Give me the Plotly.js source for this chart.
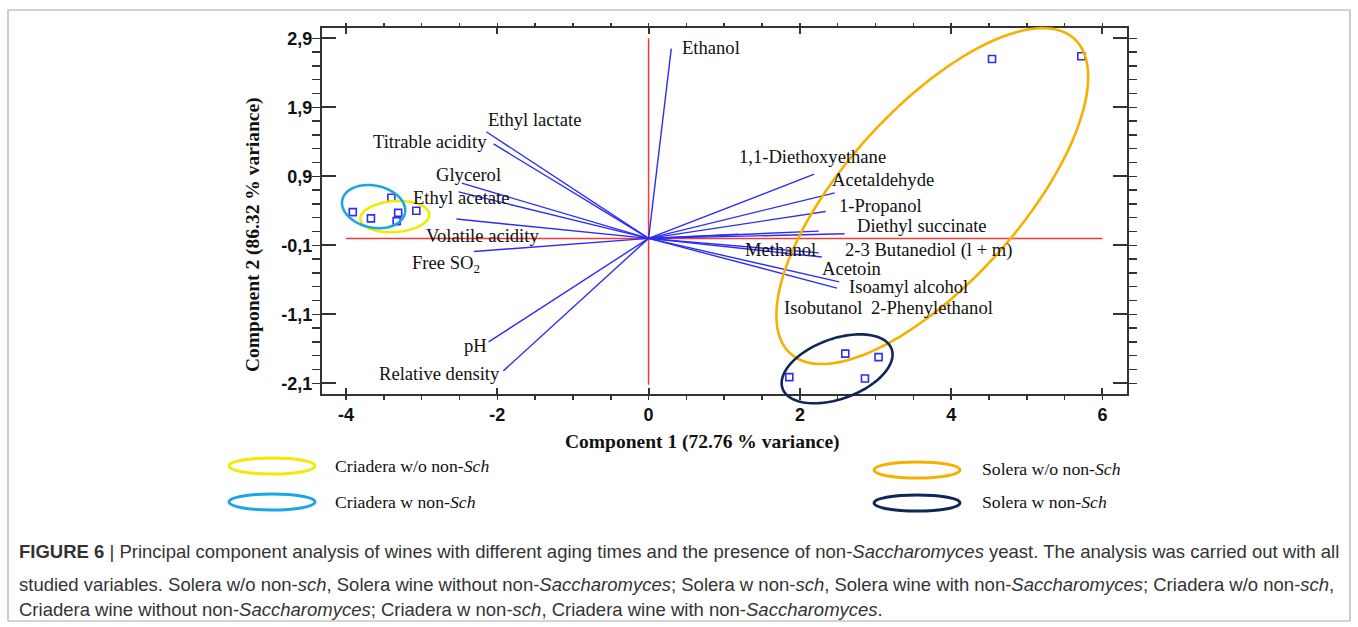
<!DOCTYPE html>
<html><head><meta charset="utf-8">
<script src="https://cdn.plot.ly/plotly-3.0.1.min.js"></script>
<style>html,body{margin:0;padding:0;background:#fff;} #chart{width:1358px;height:627px;}</style>
</head><body><div id="chart"></div>
<script>
// ---------- data ----------
const variables = ['Ethanol','Ethyl lactate','Titrable acidity','Glycerol','Ethyl acetate','Volatile acidity','Free SO<sub>2</sub>','pH','Relative density',
  '1,1-Diethoxyethane','Acetaldehyde','1-Propanol','Diethyl succinate','Methanol','2-3 Butanediol (l + m)','Acetoin','Isoamyl alcohol','Isobutanol','2-Phenylethanol'];
const loadingPC1 = [0.30,-2.145,-2.05,-2.47,-2.51,-2.54,-2.31,-2.115,-1.92, 2.19,2.46,2.34,2.59,1.19,2.25,2.29,2.52,2.49,2.25];
const loadingPC2 = [2.75, 1.545, 1.37, 0.80, 0.675, 0.28,-0.19,-1.50,-1.92, 0.93,0.66,0.39,0.067,0.06,0.106,-0.27,-0.63,-0.72,-0.21];

const sampleGroup = ['Criadera w non-Sch','Criadera w non-Sch','Criadera w non-Sch','Criadera w/o non-Sch','Criadera w/o non-Sch','Criadera w/o non-Sch',
  'Solera w non-Sch','Solera w non-Sch','Solera w non-Sch','Solera w/o non-Sch','Solera w/o non-Sch','Solera w/o non-Sch'];
const scorePC1 = [-3.91,-3.67,-3.40,-3.31,-3.33,-3.07, 1.86,3.04,2.86, 2.60,4.54,5.72];
const scorePC2 = [0.38,0.29,0.59,0.37,0.25,0.40, -2.01,-1.72,-2.03, -1.67,2.60,2.64];

const groupNames  = ['Criadera w/o non-Sch','Criadera w non-Sch','Solera w/o non-Sch','Solera w non-Sch'];
const groupLabels = ['Criadera w/o non-<i>Sch</i>','Criadera w non-<i>Sch</i>','Solera w/o non-<i>Sch</i>','Solera w non-<i>Sch</i>'];
// group ellipses: centre (data units), semi-axes (px), rotation (deg)
const ellipseCX = [-3.355,-3.635,3.75,2.492];
const ellipseCY = [0.316,0.461,0.613,-1.89];
const ellipseA  = [34.5,32,212,58];
const ellipseB  = [15.5,21,87,30];
const ellipseRot= [4,-12,48,20];

const xTickVals = [-4,-2,0,2,4,6];
const xTickText = ['-4','-2','0','2','4','6'];
const yTickVals = [-2.1,-1.1,-0.1,0.9,1.9,2.9];
const yTickText = ['-2,1','-1,1','-0,1','0,9','1,9','2,9'];
const refLineX = [-4,6];
const refLineY = [-2.12,2.9];

// ---------- styling / placement ----------
const W=1358,H=627,L=322,R=231,T=28,B=233;
const PW=W-L-R, PH=H-T-B;
const xRange=[-4.317,6.324], yRange=[-2.255,3.049];
const sx=PW/(xRange[1]-xRange[0]), sy=PH/(yRange[1]-yRange[0]);
const paperX = px => (px-L)/PW;
const paperY = py => (T+PH-py)/PH;
const dataToPaperX = v => (v-xRange[0])/(xRange[1]-xRange[0]);
const dataToPaperY = v => (v-yRange[0])/(yRange[1]-yRange[0]);
const groupColors = ['#f2ea00','#1ca7e3','#f5b000','#0f2756'];
const vecColor = 'rgb(45,45,245)';
// label placement (left edge px, vertical centre px)
const labelLeft = [681,487,372,435,412,425,411,463,378, 738,831,838,856,744,844,821,848,783,870];
const labelMid  = [48,119,141,174,198,235,264,345,373, 157,179,205,225,249,250,268,286,307,307];

// ---------- traces ----------
const traces = [];
traces.push({x:[refLineX[0],refLineX[1],null,0,0], y:[0,0,null,refLineY[0],refLineY[1]], mode:'lines',
  line:{color:'rgb(240,60,60)',width:1.5}, hoverinfo:'skip'});
const vx=[], vy=[];
variables.forEach((v,i)=>{vx.push(0,loadingPC1[i],null); vy.push(0,loadingPC2[i],null);});
traces.push({x:vx,y:vy,mode:'lines',line:{color:vecColor,width:1.4},hoverinfo:'skip'});
traces.push({x:scorePC1,y:scorePC2,mode:'markers',text:sampleGroup,
  marker:{symbol:'square-open',size:7,color:vecColor,line:{width:1.6,color:vecColor}}});

const shapes=[];
// group ellipses (paper-referenced paths so they may cross the frame like in the reference)
groupNames.forEach((g,k)=>{
  const th=ellipseRot[k]*Math.PI/180; let p='';
  for(let d=0; d<360; d+=3){
    const t=d*Math.PI/180;
    const dx=ellipseA[k]*Math.cos(t)*Math.cos(th)-ellipseB[k]*Math.sin(t)*Math.sin(th);
    const dy=ellipseA[k]*Math.cos(t)*Math.sin(th)+ellipseB[k]*Math.sin(t)*Math.cos(th);
    const X=dataToPaperX(ellipseCX[k]+dx/sx), Y=dataToPaperY(ellipseCY[k]+dy/sy);
    p += (d===0?'M':'L')+X.toFixed(5)+','+Y.toFixed(5);
  }
  shapes.push({type:'path',xref:'paper',yref:'paper',path:p+'Z',line:{color:groupColors[k],width:2.6},layer:'above'});
});

// ---------- annotations ----------
const serif='Liberation Serif, Times New Roman, serif';
const sans='Liberation Sans, Arial, sans-serif';
const ann=[];
variables.forEach((v,i)=>ann.push({xref:'paper',yref:'paper',x:paperX(labelLeft[i]),y:paperY(labelMid[i]),
  xanchor:'left',yanchor:'middle',text:v,showarrow:false,borderpad:0,font:{family:serif,size:18.6,color:'#111'}}));
ann.push({xref:'paper',yref:'paper',x:paperX(702),y:paperY(442),xanchor:'center',yanchor:'middle',showarrow:false,
  text:'<b>Component 1 (72.76 % variance)</b>',font:{family:serif,size:19.5,color:'#111'}});
ann.push({xref:'paper',yref:'paper',x:paperX(253),y:paperY(235),xanchor:'center',yanchor:'middle',showarrow:false,textangle:-90,
  text:'<b>Component 2 (86.32 % variance)</b>',font:{family:serif,size:19.5,color:'#111'}});
const legIconX=[272,272,917,917], legIconY=[466,502,470,503], legTextX=[333,333,980,980], legTextY=[466,502,469,502];
groupNames.forEach((g,k)=>{
  ann.push({xref:'paper',yref:'paper',x:paperX(legTextX[k]),y:paperY(legTextY[k]),xanchor:'left',yanchor:'middle',showarrow:false,
    text:groupLabels[k],font:{family:serif,size:17.7,color:'#111'}});
  shapes.push({type:'circle',xref:'paper',yref:'paper',x0:paperX(legIconX[k]-43),x1:paperX(legIconX[k]+43),
    y0:paperY(legIconY[k]+8),y1:paperY(legIconY[k]-8),line:{color:groupColors[k],width:3}});
});
const capLines=[
 '<b>FIGURE 6</b> | Principal component analysis of wines with different aging times and the presence of non-<i>Saccharomyces</i> yeast. The analysis was carried out with all',
 'studied variables. Solera w/o non-<i>sch</i>, Solera wine without non-<i>Saccharomyces</i>; Solera w non-<i>sch</i>, Solera wine with non-<i>Saccharomyces</i>; Criadera w/o non-<i>sch</i>,',
 'Criadera wine without non-<i>Saccharomyces</i>; Criadera w non-<i>sch</i>, Criadera wine with non-<i>Saccharomyces</i>.'];
const capY=[551,584,609];
capLines.forEach((c,i)=>ann.push({xref:'paper',yref:'paper',x:paperX(17),y:paperY(capY[i]),xanchor:'left',yanchor:'middle',showarrow:false,
  text:c,font:{family:sans,size:18.5,color:'#333'}}));
// outer frame
shapes.push({type:'rect',xref:'paper',yref:'paper',x0:paperX(8),x1:paperX(1350),y0:paperY(621),y1:paperY(10),line:{color:'#aaa',width:1.2},layer:'below'});

const axisCommon={showgrid:false,zeroline:false,showline:true,mirror:'ticks',linecolor:'#333',linewidth:2,
  ticks:'inside',tickwidth:2,tickcolor:'#333',tickmode:'array',
  tickfont:{family:sans,size:18,color:'#111',weight:'bold'}};
const layout={
  width:W,height:H,margin:{l:L,r:R,t:T,b:B,pad:0},paper_bgcolor:'#fff',plot_bgcolor:'#fff',showlegend:false,
  xaxis:Object.assign({},axisCommon,{range:xRange,tickvals:xTickVals,ticktext:xTickText,ticklen:6,ticklabelstandoff:3,
    minor:{tickmode:'linear',tick0:-4,dtick:0.5,ticklen:3.5,tickwidth:1.5,tickcolor:'#333',showgrid:false}}),
  yaxis:Object.assign({},axisCommon,{range:yRange,tickvals:yTickVals,ticktext:yTickText,ticklen:14,ticklabelstandoff:4,
    minor:{tickmode:'linear',tick0:-2.1,dtick:0.2,ticklen:8,tickwidth:1.5,tickcolor:'#333',showgrid:false}}),
  annotations:ann,shapes:shapes
};
Plotly.newPlot('chart',traces,layout,{displayModeBar:false,staticPlot:true});
</script></body></html>
